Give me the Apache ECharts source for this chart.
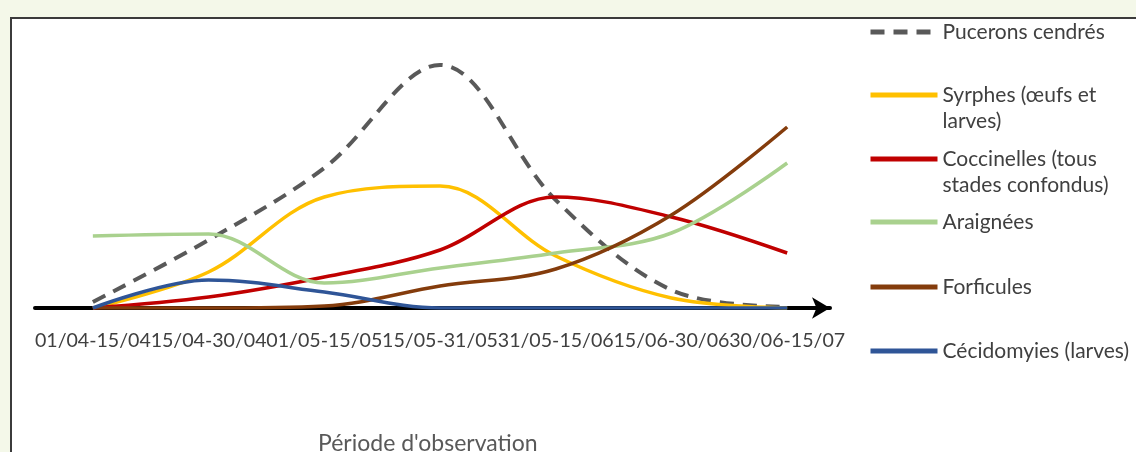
<!DOCTYPE html>
<html>
<head>
<meta charset="utf-8">
<script src="https://cdn.jsdelivr.net/npm/echarts@6/dist/echarts.min.js"></script>
<style>
html,body{margin:0;padding:0;background:#f4f8e9;}
#c{width:1136px;height:452px;}
</style>
</head>
<body>
<div id="c"></div>
<script>
const categories = ['01/04-15/04','15/04-30/04','01/05-15/05','15/05-31/05','31/05-15/06','15/06-30/06','30/06-15/07'];
const seriesNames = ['Pucerons cendrés','Syrphes (œufs et larves)','Coccinelles (tous stades confondus)','Araignées','Forficules','Cécidomyies (larves)'];
const legendLabels = ['Pucerons cendrés','Syrphes (œufs et\nlarves)','Coccinelles (tous\nstades confondus)','Araignées','Forficules','Cécidomyies (larves)'];
const pucerons    = [6, 68, 140, 243, 108, 18, 1];
const syrphes     = [0, 36, 111, 122, 52, 10, 0];
const coccinelles = [0, 11, 31, 58, 111, 91, 55];
const araignees   = [72, 74, 25, 40, 55, 75, 145];
const forficules  = [0, 0, 2, 22, 39, 93, 181];
const cecidomyies = [0, 28, 16, 0, 0, 0, 0];
const axisTitle = "Période d'observation";

const values = [pucerons, syrphes, coccinelles, araignees, forficules, cecidomyies];
const colors = ['#595959','#FFC000','#C00000','#A9D18E','#843C0C','#2F5597'];
const legendIconY = [32, 95, 159, 222, 287, 351];
const FONT = 'Lato';
const LH = 26;

const chart = echarts.init(document.getElementById('c'));
const series = values.map((arr, k) => ({
  name: seriesNames[k],
  type: 'line',
  smooth: 0.35,
  showSymbol: false,
  symbol: 'none',
  data: arr.map((v, i) => [i, v]),
  lineStyle: k === 0
    ? {color: colors[k], width: 4, type: [14, 9]}
    : {color: colors[k], width: 3.5},
  itemStyle: {color: colors[k]},
  z: 3 + k
}));
const legends = seriesNames.map((n, k) => {
  const multi = legendLabels[k].indexOf('\n') >= 0;
  const label = multi ? ' \n' + legendLabels[k] : legendLabels[k];
  const h = multi ? 3 * LH : LH;
  return {
    data: [n],
    left: 863,
    top: legendIconY[k] - 5 - h / 2,
    orient: 'vertical',
    itemWidth: 67,
    itemHeight: 14,
    formatter: () => label,
    selectedMode: false,
    itemStyle: {opacity: 0},
    lineStyle: {width: 5},
    textStyle: {fontFamily: FONT, fontSize: 21, color: '#404040', lineHeight: LH}
  };
});
chart.setOption({
  animation: false,
  graphic: [{type: 'rect', z: -10, silent: true,
    shape: {x: 11, y: 18, width: 1200, height: 500},
    style: {fill: '#ffffff', stroke: '#3b3b3b', lineWidth: 2}}],
  title: {text: axisTitle, left: 313, top: 427,
    textStyle: {fontFamily: FONT, fontSize: 23, fontWeight: 'normal', color: '#595959'}},
  legend: legends,
  grid: {left: 35, right: 1136 - 830, top: 18, bottom: 452 - 308},
  xAxis: {
    type: 'value', min: -0.5, max: 6.37,
    splitLine: {show: false},
    axisTick: {show: false},
    axisLine: {show: true, onZero: false, symbol: ['none', 'arrow'], symbolSize: [16, 18],
      lineStyle: {color: '#000', width: 4}},
    axisLabel: {customValues: [0,1,2,3,4,5,6], formatter: v => categories[Math.round(v)] || '',
      fontFamily: FONT, fontSize: 19.6, color: '#404040', margin: 23, hideOverlap: false}
  },
  yAxis: {type: 'value', min: 0, max: 290, show: false},
  series: series
});
</script>
</body>
</html>
